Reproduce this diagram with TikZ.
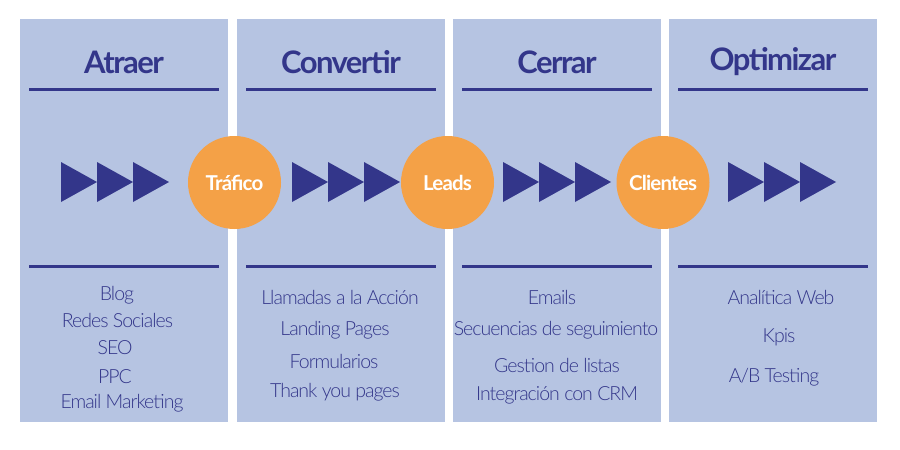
\documentclass[tikz,border=0pt]{standalone}
\usepackage{fontspec}
\setmainfont{Lato}
\newfontfamily\titlefont{Lato Bold}[LetterSpace=-5]
\newfontfamily\circfont{Lato Bold}[LetterSpace=-4]
\newfontfamily\itemfont{Lato Light}[LetterSpace=-5]
\definecolor{panel}{HTML}{B6C4E2}
\definecolor{navy}{HTML}{33368A}
\definecolor{orangec}{HTML}{F4A147}
\tikzset{
  panelbox/.style={fill=panel, minimum width=208pt, minimum height=403pt, inner sep=0pt},
  ttl/.style={text=navy, font=\titlefont\fontsize{31}{34}\selectfont, inner sep=0pt},
  rule/.style={draw=navy, line width=3pt},
  circ/.style={circle, fill=orangec, minimum size=93pt, inner sep=0pt, text=white, font=\circfont\fontsize{20.5}{22}\selectfont},
  itm/.style={text=navy, font=\itemfont\fontsize{19.5}{21}\selectfont, inner sep=0pt},
  tri/.style={fill=navy}
}
\begin{document}
\begin{tikzpicture}[x=1pt,y=-1pt]
\useasboundingbox (0,0) rectangle (900,450);
% panels
\node[panelbox] (p1) at (124,220.5) {};
\node[panelbox] (p2) at (341,220.5) {};
\node[panelbox] (p3) at (557,220.5) {};
\node[panelbox] (p4) at (773,220.5) {};
% titles
\node[ttl] (t1) at (124,62) {Atraer};
\node[ttl] (t2) at (341,62) {Convertir};
\node[ttl] (t3) at (557,62) {Cerrar};
\node[ttl] (t4) at (773,62) {Optimizar};
% rules
\foreach \l in {29,246,462,678} {
  \draw[rule] (\l,89) -- (\l+190,89);
  \draw[rule] (\l,266) -- (\l+190,266);
}
% triangles
\foreach \s in {61,292,503,728} {
  \foreach \k in {0,1,2} {
    \fill[tri] (\s+36*\k,162) -- (\s+36*\k+36,182) -- (\s+36*\k,202) -- cycle;
  }
}
% circles
\node[circ] (c1) at (234.5,182.5) {Tráfico};
\node[circ] (c2) at (447.5,182.5) {Leads};
\node[circ] (c3) at (663,182.5) {Clientes};
% lists
\node[itm] (a1) at (117,295) {Blog};
\node[itm] (a2) at (117.5,320) {Redes Sociales};
\node[itm] (a3) at (115,348) {SEO};
\node[itm] (a4) at (115,377) {PPC};
\node[itm] (a5) at (122,403) {Email Marketing};
\node[itm] (b1) at (340,297) {Llamadas a la Acción};
\node[itm] (b2) at (335,330) {Landing Pages};
\node[itm] (b3) at (334,361) {Formularios};
\node[itm] (b4) at (335,392) {Thank you pages};
\node[itm] (d1) at (552,297) {Emails};
\node[itm] (d2) at (556,330) {Secuencias de seguimiento};
\node[itm] (d3) at (557,365) {Gestion de listas};
\node[itm] (d4) at (557,395) {Integración con CRM};
\node[itm] (e1) at (781,297) {Analítica Web};
\node[itm] (e2) at (779,337) {Kpis};
\node[itm] (e3) at (774,377) {A/B Testing};
\end{tikzpicture}
\end{document}
